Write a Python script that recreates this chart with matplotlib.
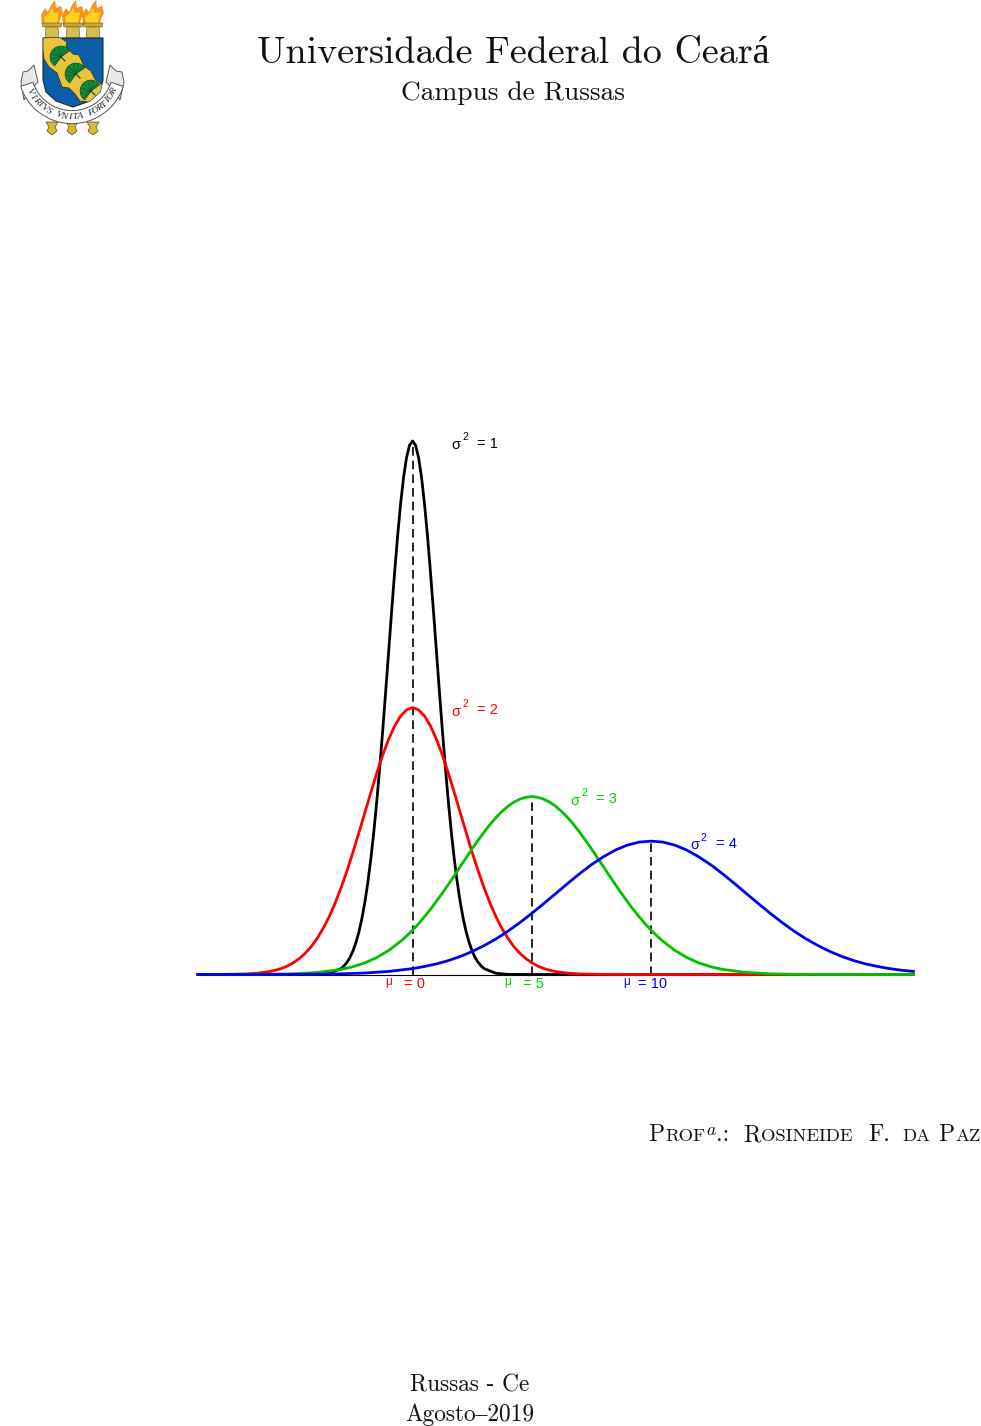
import numpy as np
import matplotlib
matplotlib.use("Agg")
import matplotlib.pyplot as plt
from matplotlib.patches import Polygon

# curves (density against x)
x_black = [-9, -5, -4, -3.5, -3, -2.875, -2.75, -2.625, -2.5, -2.375, -2.25, -2.125, -2, -1.875, -1.75, -1.625, -1.5,
           -1.375, -1.25, -1.125, -1, -0.875, -0.75, -0.625, -0.5, -0.375, -0.25, -0.125, 0,
           0.125, 0.25, 0.375, 0.5, 0.625, 0.75, 0.875, 1, 1.125, 1.25, 1.375, 1.5, 1.625, 1.75, 1.875, 2,
           2.125, 2.25, 2.375, 2.5, 2.625, 2.75, 2.875, 3, 3.5, 4, 5, 21]
y_black = [0, 0, .0001, .0009, .0044, .0064, .0091, .0126, .0175, .0238, .0317, .0417, .054, .0688, .0863, .1065, .1295,
           .1551, .1826, .2119, .242, .2721, .3011, .3282, .3521, .3719, .3867, .3958, .3989,
           .3958, .3867, .3719, .3521, .3282, .3011, .2721, .242, .2119, .1826, .1551, .1295, .1065, .0863, .0688, .054,
           .0417, .0317, .0238, .0175, .0126, .0091, .0064, .0044, .0009, .0001, 0, 0]

x_red = [-9, -8, -7, -6.5, -6, -5.75, -5.5, -5.25, -5, -4.75, -4.5, -4.25, -4, -3.75, -3.5, -3.25, -3, -2.75, -2.5, -2.25,
         -2, -1.75, -1.5, -1.25, -1, -0.75, -0.5, -0.25, 0,
         0.25, 0.5, 0.75, 1, 1.25, 1.5, 1.75, 2, 2.25, 2.5, 2.75, 3, 3.25, 3.5, 3.75, 4, 4.25, 4.5, 4.75, 5, 5.25, 5.5, 5.75,
         6, 6.5, 7, 8, 9, 21]
y_red = [0, .0001, .0004, .001, .0022, .0032, .0045, .0063, .0088, .0119, .0159, .0208, .027, .0344, .0431, .0532, .0648,
         .0775, .0913, .106, .121, .136, .1506, .1641, .176, .1859, .1933, .1979, .1995,
         .1979, .1933, .1859, .176, .1641, .1506, .136, .121, .106, .0913, .0775, .0648, .0532, .0431, .0344, .027, .0208,
         .0159, .0119, .0088, .0063, .0045, .0032, .0022, .001, .0004, .0001, 0, 0]

x_green = [-9, -7, -6, -5, -4, -3, -2.5, -2, -1.5, -1, -0.5, -0.25, 0, 0.25, 0.5, 0.75, 1, 1.25, 1.5, 1.75, 2, 2.25, 2.5, 2.75,
           3, 3.25, 3.5, 3.75, 4, 4.25, 4.5, 4.75, 5,
           5.25, 5.5, 5.75, 6, 6.25, 6.5, 6.75, 7, 7.25, 7.5, 7.75, 8, 8.25, 8.5, 8.75, 9, 9.25, 9.5, 9.75, 10, 10.25,
           10.5, 11, 11.5, 12, 12.5, 13, 14, 15, 16, 17, 19, 21]
y_green = [0, .0001, .0002, .0005, .0015, .0038, .0058, .0087, .0127, .018, .0248, .0288, .0332, .038, .0432, .0487, .0547,
           .0609, .0673, .0739, .0807, .0873, .094, .1004, .1065, .1122, .1174, .1219, .1258, .1289, .1311, .1325, .133,
           .1325, .1311, .1289, .1258, .1219, .1174, .1122, .1065, .1004, .094, .0873, .0807, .0739, .0673, .0609, .0547,
           .0487, .0432, .038, .0332, .0288, .0248, .018, .0127, .0087, .0058, .0038, .0015, .0005, .0002, .0001, 0, 0]

x_blue = [-9, -6, -5, -4, -3, -2, -1, 0, 0.5, 1, 1.5, 2, 2.5, 3, 3.5, 4, 4.5, 5, 5.5, 6, 6.5, 7, 7.5, 8, 8.5, 9, 9.5, 10,
          10.5, 11, 11.5, 12, 12.5, 13, 13.5, 14, 14.5, 15, 15.5, 16, 16.5, 17, 17.5, 18, 18.5, 19, 19.5, 20, 20.5, 21]
y_blue = [0, 0, .0001, .0002, .0005, .0011, .0023, .0044, .006, .0079, .0104, .0135, .0172, .0216, .0266, .0324, .0388,
          .0457, .053, .0605, .068, .0753, .0821, .088, .093, .0967, .099, .0997,
          .099, .0967, .093, .088, .0821, .0753, .068, .0605, .053, .0457, .0388, .0324, .0266, .0216, .0172, .0135,
          .0104, .0079, .006, .0044, .0032, .0023]

mu_values = [0, 5, 10]
mu_peaks = [.3989, .133, .0997]
mu_colors = ["red", "#00CD00", "blue"]
mu_labels = ["= 0", "= 5", "= 10"]

sigma_x = [0, 0, 5, 10]
sigma_peaks = [.3989, .1995, .133, .0997]
sigma_colors = ["black", "red", "#00CD00", "blue"]
sigma_labels = ["= 1", "= 2", "= 3", "= 4"]

W, H = 981, 1426
fig = plt.figure(figsize=(W / 100, H / 100), dpi=100)

# whole page in pixels, for the header, footer and crest
page = fig.add_axes([0, 0, 1, 1])
page.set_xlim(0, W)
page.set_ylim(H, 0)
page.axis("off")

ax = fig.add_axes([197.9 / W, (H - 974.5) / H, 715.5 / W, 533.5 / H])
ax.set_xlim(-9, 21)
ax.set_ylim(0, .3989)
ax.axis("off")
ax.patch.set_alpha(0)

ax.plot([-9, 21], [-.0007, -.0007], color="black", lw=0.8, clip_on=False)
for m, p in zip(mu_values, mu_peaks):
    ax.plot([m, m], [0, p], color="black", lw=1.2, dashes=(5.2, 3), clip_on=False)

for xs, ys, c in [(x_black, y_black, "black"), (x_red, y_red, "red"),
                  (x_green, y_green, "#00C000"), (x_blue, y_blue, "#0000F0")]:
    ax.plot(xs, ys, color=c, lw=2.0, clip_on=False, solid_joinstyle="round")

sans = "Liberation Sans"
for xv, p, c, lab in zip(sigma_x, sigma_peaks, sigma_colors, sigma_labels):
    ax.annotate("σ", (xv, p), xytext=(39, -4), textcoords="offset pixels", color=c, fontsize=10.5,
                family=sans, ha="left", va="center", annotation_clip=False)
    ax.annotate("2", (xv, p), xytext=(49.5, 3.5), textcoords="offset pixels", color=c, fontsize=7.5,
                family=sans, ha="left", va="center", annotation_clip=False)
    ax.annotate(lab, (xv, p), xytext=(64.5, -2.5), textcoords="offset pixels", color=c, fontsize=10.5,
                family=sans, ha="left", va="center", annotation_clip=False)

for m, c, lab in zip(mu_values, mu_colors, mu_labels):
    ax.annotate("μ", (m, 0), xytext=(-24, -8), textcoords="offset pixels", color=c, fontsize=8.5,
                family=sans, ha="center", va="center", annotation_clip=False)
    ax.annotate(lab, (m, 0), xytext=(1.5, -10), textcoords="offset pixels", color=c, fontsize=10.5,
                family=sans, ha="center", va="center", annotation_clip=False)

# header and footer, Computer Modern look
cm = ["cmr10", "Liberation Serif"]
page.text(513.5, 63, "Universidade Federal do Ceará", family=cm, fontsize=27.4, ha="center", va="baseline", color="#111111")
page.text(513, 100, "Campus de Russas", family=cm, fontsize=19.7, ha="center", va="baseline", color="#111111")
page.text(470, 1392, "Russas - Ce", family=cm, fontsize=16.8, ha="center", va="baseline", color="#111111")
page.text(470, 1421, "Agosto–2019", family=cm, fontsize=16.8, ha="center", va="baseline", color="#111111")

# small caps signature, word by word
big, small = 17, 13.4
words = [(648, [("P", big, cm, 0), ("ROF", small, cm, 0), ("a", 12.5, ["cmmi10"], -6), (".:", big, cm, 0)]),
         (743, [("R", big, cm, 0), ("OSINEIDE", small, cm, 0)]),
         (868, [("F.", big, cm, 0)]),
         (902, [("DA", small, cm, 0)]),
         (938, [("P", big, cm, 0), ("AZ", small, cm, 0)])]
rend = fig.canvas.get_renderer()
for start, parts in words:
    px = float(start)
    for s, size, fam, dy in parts:
        t = page.text(px, 1141 + dy, s, family=fam, fontsize=size, ha="left", va="baseline", color="#111111")
        px += t.get_window_extent(rend).width + 1.0


# crest
def poly(pts, fc, ec="none", lw=0.5, z=2):
    p = Polygon(pts, closed=True, fc=fc, ec=ec, lw=lw, zorder=z)
    page.add_patch(p)
    return p


for cx in [52, 73, 93]:
    flame = [(-10, 24), (-11, 15), (-7, 8), (-4, 12), (-1, 5), (3, 0), (4, 8), (9, 6), (11, 13), (8, 19), (7, 24)]
    poly([(cx + a, b) for a, b in flame], "#F7931E")
    inner = [(-7, 24), (-8, 17), (-4, 14), (0, 8), (2, 13), (7, 12), (5, 24)]
    poly([(cx + a, b) for a, b in inner], "#FFD21F")
    poly([(cx - 10, 23), (cx + 10, 23), (cx + 9, 27), (cx - 9, 27)], "#C9A63A", "#6A5A20", 0.4)
    poly([(cx - 6, 27), (cx + 6, 27), (cx + 7, 38), (cx - 7, 38)], "#D9BC4F", "#6A5A20", 0.4)

shield = poly([(43, 38), (103, 38), (103, 80), (100, 92), (90, 101), (73, 107), (56, 101), (46, 92), (43, 80)],
              "#0B5EA8", "#1C2B3A", 0.8)
band = poly([(43, 38), (59, 37), (67, 42), (66, 46), (73, 54), (79, 55), (84, 66), (91, 71), (95, 79), (104, 86), (104, 104),
             (80, 101), (75, 94), (69, 88), (62, 87), (57, 73), (49, 67), (44, 59), (43, 50)], "#E8C43F", "#3A3A10", 0.6, 3)
band.set_clip_path(shield)
for cx, cy in [(57, 53), (72, 70), (87, 87)]:
    sx, sy = cx + 4, cy + 4
    fan = np.deg2rad(np.linspace(125, 325, 15))
    poly([(sx, sy)] + [(sx + 11 * np.cos(a), sy + 11 * np.sin(a)) for a in fan], "#0E8A3A", "#0A3A20", 0.4, 4)
    for a in fan[1:-1:2]:
        page.plot([sx, sx + 10 * np.cos(a)], [sy, sy + 10 * np.sin(a)], color="#0A4A22", lw=0.35, zorder=5)
    page.plot([sx, sx + 4], [sy, sy + 4], color="#0A3A20", lw=0.8, zorder=5)

rcx, rcy = 72, 69.6
phi = np.deg2rad(np.linspace(-72, 72, 50))
outer = [(rcx + 54 * np.sin(a), rcy + 54 * np.cos(a)) for a in phi]
inner = [(rcx + 41 * np.sin(a), rcy + 41 * np.cos(a)) for a in phi[::-1]]
poly(outer + inner, "white", "#555555", 0.7, 6)
poly([(24, 100), (21, 82), (23, 72), (28, 71), (34, 65), (38, 82), (30, 90)], "#E8E8E8", "#555555", 0.7, 5)
poly([(120, 100), (124, 82), (122, 72), (116, 71), (110, 65), (106, 82), (114, 90)], "#E8E8E8", "#555555", 0.7, 5)

motto = "VIRTVS VNITA FORTIOR"
angles = np.linspace(-62, 62, len(motto))
for ch, a in zip(motto, angles):
    r = np.deg2rad(a)
    page.text(rcx + 47.5 * np.sin(r), rcy + 47.5 * np.cos(r), ch, family="Liberation Serif", style="italic",
              fontsize=6.8, ha="center", va="center", rotation=a, color="#222222", zorder=7)

for cx in [52, 72, 93]:
    poly([(cx - 6, 122), (cx + 6, 122), (cx + 3, 127), (cx + 5, 131), (cx, 135), (cx - 5, 131), (cx - 3, 127)],
         "#D9B93A", "#5A4A10", 0.5, 5)

fig.savefig("out.png", dpi=100)
